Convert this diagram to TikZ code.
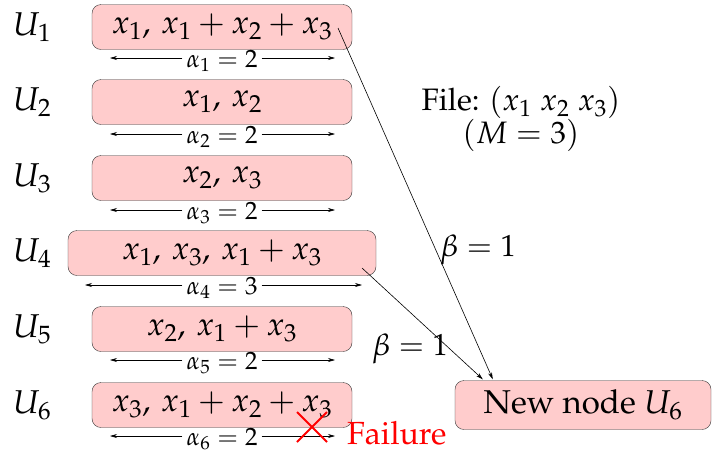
\documentclass[tikz,border=0pt]{standalone}
\usepackage[T1]{fontenc}
\usepackage{mathpazo}
\usetikzlibrary{arrows.meta,calc}
\begin{document}
\begin{tikzpicture}[x=1pt,y=-1pt,
  ubox/.style={draw=black!80,fill=red!20,rounded corners=9pt,minimum height=45pt,inner sep=0pt,font=\fontsize{32.5}{36}\selectfont},
  ulab/.style={font=\fontsize{33}{36}\selectfont},
  alab/.style={inner sep=0pt,font=\fontsize{25}{28}\selectfont},
  dim/.style={-{Stealth[length=7pt,width=4pt]},line width=0.6pt},
  link/.style={-{Stealth[length=7pt,width=4pt]},line width=0.6pt},
  big/.style={font=\fontsize{30.5}{33}\selectfont}]
\useasboundingbox (0,0) rectangle (712,459);
% boxes
\node[ubox,minimum width=260pt] (b1) at (222,27) {$x_1,\,x_1+x_2+x_3$};
\node[ubox,minimum width=260pt] (b2) at (222,102) {$x_1,\,x_2$};
\node[ubox,minimum width=260pt] (b3) at (222,178) {$x_2,\,x_3$};
\node[ubox,minimum width=308pt] (b4) at (222,253) {$x_1,\,x_3,\,x_1+x_3$};
\node[ubox,minimum width=260pt] (b5) at (222,329) {$x_2,\,x_1+x_3$};
\node[ubox,minimum width=260pt] (b6) at (222,405) {$x_3,\,x_1+x_2+x_3$};
\node[ubox,minimum width=256pt,minimum height=49pt,font=\fontsize{33}{36}\selectfont] (nn) at (583,405) {New node $U_6$};
% labels
\node[ulab] (u1) at (32,27) {$U_1$};
\node[ulab] (u2) at (32,102) {$U_2$};
\node[ulab] (u3) at (32,178) {$U_3$};
\node[ulab] (u4) at (32,253) {$U_4$};
\node[ulab] (u5) at (32,329) {$U_5$};
\node[ulab] (u6) at (32,405) {$U_6$};
% dimension arrows
\foreach \i/\y/\l/\r/\v in {1/58/110/335/2,2/134/110/335/2,3/210/110/335/2,4/285/85/362/3,5/360/110/335/2,6/436/110/335/2}{
  \coordinate (dl\i) at (\l,\y);
  \coordinate (dr\i) at (\r,\y);
  \node[alab] (al\i) at (222,\y+3) {$\alpha_{\i}=\v$};
  \draw[dim] (al\i.west |- dl\i) ++(-4,0) -- (dl\i);
  \draw[dim] (al\i.east |- dr\i) ++(4,0) -- (dr\i);
}
% file
\node[align=center,font=\fontsize{31}{33}\selectfont] (file) at (521,119) {File: $(x_1\;x_2\;x_3)$\\$(M=3)$};
% links
\coordinate (s1) at (338,28);
\coordinate (s4) at (362,268);
\draw[link] (s1) -- ($(nn.north west)+(38,-1)$);
\draw[link] (s4) -- ($(nn.north west)+(28,-1)$);
\node[big] (beta1) at (478,250) {$\beta=1$};
\node[big] (beta2) at (410,349) {$\beta=1$};
% failure
\coordinate (fx) at (312,427);
\draw[red,line width=2pt] ($(fx)+(-15,-15)$) -- ($(fx)+(15,15)$) ($(fx)+(-15,15)$) -- ($(fx)+(15,-15)$);
\node[text=red,anchor=west,inner sep=0pt,font=\fontsize{32}{34}\selectfont] (fail) at (347,433) {Failure};
\end{tikzpicture}
\end{document}
